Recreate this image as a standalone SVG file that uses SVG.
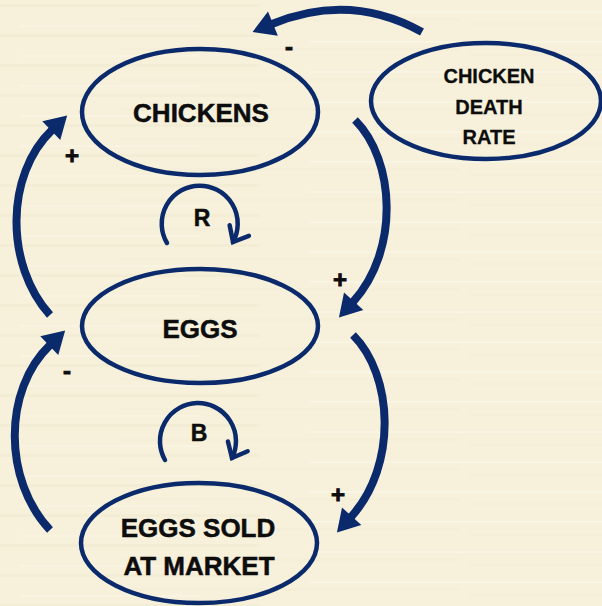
<svg xmlns="http://www.w3.org/2000/svg" width="602" height="606" viewBox="0 0 602 606">
  <defs>
    <style>
      .node { fill: none; stroke: #0b2a6b; stroke-width: 4.5; }
      .label { font-family: "Liberation Sans", Arial, sans-serif; font-weight: bold; fill: #0d0d0d; stroke: #0d0d0d; stroke-width: 0.5; text-anchor: middle; }
      .big { font-size: 26px; }
      .small { font-size: 20px; stroke-width: 0.3; }
      .sign { font-size: 24px; stroke-width: 0.9; }
      .loopname { font-size: 23px; }
      .link { fill: none; stroke: #0b2a6b; stroke-width: 8; stroke-linecap: butt; marker-end: url(#head); }
      .loop { fill: none; stroke: #0b2a6b; stroke-width: 4.5; stroke-linecap: round; marker-end: url(#chevron); }
    </style>
    <marker id="head" markerUnits="userSpaceOnUse" viewBox="0 0 22 26" markerWidth="22" markerHeight="26" refX="1" refY="13" orient="auto" overflow="visible">
      <path d="M0,0 L22,13 L0,26 z" fill="#0b2a6b"/>
    </marker>
    <marker id="chevron" markerUnits="userSpaceOnUse" viewBox="-16 -14 20 28" markerWidth="20" markerHeight="28" refX="0" refY="0" orient="auto" overflow="visible">
      <path d="M-13,-11 L0,0 L-13,11" fill="none" stroke="#0b2a6b" stroke-width="4.5" stroke-linecap="round" stroke-linejoin="miter"/>
    </marker>
    <!-- faint horizontal paper streaks -->
    <pattern id="grain" patternUnits="userSpaceOnUse" width="602" height="30">
      <rect width="602" height="30" fill="#f7f1dc"/>
      <rect x="0" y="4" width="260" height="3" fill="#f3ecd4" opacity="0.7"/>
      <rect x="310" y="11" width="292" height="2" fill="#faf6e6" opacity="0.8"/>
      <rect x="120" y="18" width="340" height="3" fill="#f3ecd5" opacity="0.6"/>
      <rect x="20" y="25" width="180" height="2" fill="#faf5e3" opacity="0.8"/>
      <rect x="470" y="23" width="132" height="3" fill="#f4edd6" opacity="0.7"/>
    </pattern>
  </defs>

  <!-- paper background -->
  <rect width="602" height="606" fill="url(#grain)"/>

  <!-- causal links -->
  <g id="connectors">
    <path class="link" d="M422,32 Q350,-8 272,24"/>
    <path class="link" d="M50,315 C5,265 5,175 52,130"/>
    <path class="link" d="M355,120 C395,160 400,250 353,302"/>
    <path class="link" d="M50,530 C3,480 3,390 50,345"/>
    <path class="link" d="M353,335 C393,375 398,465 351,517"/>
    <path class="loop" d="M167,243 A38,38 0 1 1 233,242"/>
    <path class="loop" d="M165,460 A38,38 0 1 1 232,458"/>
  </g>

  <!-- polarity signs and loop labels -->
  <g id="signs">
    <text class="label sign" x="289" y="55">-</text>
    <text class="label sign" x="72" y="164">+</text>
    <text class="label sign" x="340" y="288">+</text>
    <text class="label sign" x="67" y="379">-</text>
    <text class="label sign" x="338" y="503">+</text>
    <text class="label loopname" x="202" y="226">R</text>
    <text class="label loopname" x="199" y="441">B</text>
  </g>

  <g id="chickens">
    <ellipse class="node" cx="200" cy="112" rx="118" ry="63"/>
    <text class="label big" x="201" y="122">CHICKENS</text>
  </g>

  <g id="death-rate">
    <ellipse class="node" cx="486" cy="101" rx="115" ry="58"/>
    <text class="label small" x="489" y="83">CHICKEN</text>
    <text class="label small" x="489" y="114">DEATH</text>
    <text class="label small" x="489" y="144">RATE</text>
  </g>

  <g id="eggs">
    <ellipse class="node" cx="200" cy="326" rx="118" ry="57"/>
    <text class="label big" x="200" y="338">EGGS</text>
  </g>

  <g id="eggs-sold">
    <ellipse class="node" cx="199" cy="543" rx="118" ry="60"/>
    <text class="label big" x="198" y="537">EGGS SOLD</text>
    <text class="label big" x="199" y="575">AT MARKET</text>
  </g>
</svg>
